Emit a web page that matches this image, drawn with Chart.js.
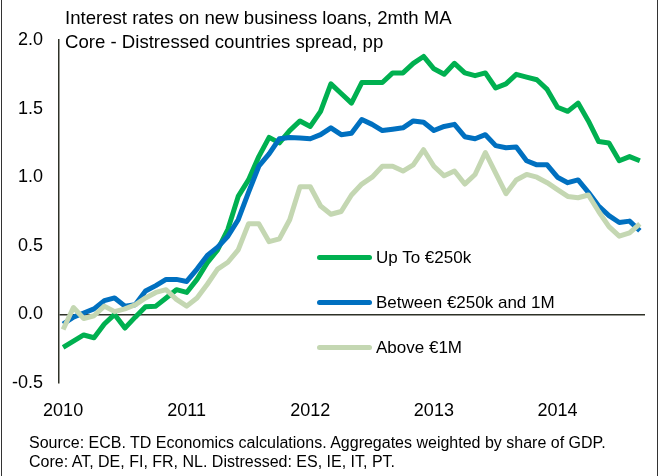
<!DOCTYPE html>
<html>
<head>
<meta charset="utf-8">
<script src="https://cdn.jsdelivr.net/npm/chart.js@4.4.1/dist/chart.umd.min.js"></script>
<style>
  body { margin: 0; background: #fff; }
  #wrap { position: relative; width: 660px; height: 476px; font-family: "Liberation Sans", Arial, sans-serif; color: #000; overflow: hidden; }
  #wrap canvas { position: absolute; left: 0; top: 0; }
  .edge { position: absolute; top: 0; width: 1px; height: 476px; background: #333; }
  .title { position: absolute; left: 65px; top: 6px; font-size: 18.6px; line-height: 24px; white-space: nowrap; }
  .foot { position: absolute; left: 29px; top: 433px; font-size: 16px; line-height: 19px; white-space: nowrap; }
  .leg { position: absolute; left: 317px; font-size: 17px; white-space: nowrap; }
  .leg span.sw { display: inline-block; width: 55px; height: 5px; border-radius: 3px; vertical-align: middle; margin-right: 4px; position: relative; top: -1px; }
</style>
</head>
<body>
<div id="wrap">
  <canvas id="c" width="660" height="476"></canvas>
  <div class="edge" style="left:1px"></div>
  <div class="edge" style="left:657px"></div>
  <div class="title">Interest rates on new business loans, 2mth MA<br>Core - Distressed countries spread, pp</div>
  <div id="legend"></div>
  <div class="foot">Source: ECB. TD Economics calculations. Aggregates weighted by share of GDP.<br>Core: AT, DE, FI, FR, NL. Distressed: ES, IE, IT, PT.</div>
</div>
<script>
// monthly points, Jan 2010 .. Sep 2014
const years = ['2010', '2011', '2012', '2013', '2014'];
const yTicks = [-0.5, 0, 0.5, 1.0, 1.5, 2.0];

const upTo250k = [-0.24, -0.195, -0.15, -0.17, -0.07, 0.0, -0.10, -0.02, 0.056, 0.06, 0.12, 0.18,
  0.16, 0.255, 0.377, 0.47, 0.62, 0.86, 0.98, 1.15, 1.29, 1.25, 1.34, 1.41,
  1.37, 1.48, 1.68, 1.61, 1.54, 1.69, 1.69, 1.69, 1.76, 1.76, 1.83, 1.88,
  1.79, 1.75, 1.83, 1.76, 1.74, 1.76, 1.65, 1.68, 1.75, 1.73, 1.71, 1.64,
  1.51, 1.48, 1.54, 1.41, 1.26, 1.25, 1.12, 1.15, 1.12];

const between250k1M = [-0.07, -0.02, 0.01, 0.04, 0.10, 0.12, 0.06, 0.07, 0.17, 0.21, 0.255, 0.255,
  0.24, 0.33, 0.43, 0.49, 0.57, 0.69, 0.89, 1.08, 1.17, 1.28, 1.29, 1.285,
  1.28, 1.31, 1.36, 1.31, 1.32, 1.42, 1.385, 1.34, 1.35, 1.36, 1.41, 1.40,
  1.34, 1.37, 1.385, 1.295, 1.28, 1.31, 1.23, 1.215, 1.22, 1.12, 1.09, 1.09,
  1.00, 0.96, 0.98, 0.89, 0.79, 0.72, 0.67, 0.68, 0.61];

const above1M = [-0.11, 0.05, -0.03, -0.01, 0.06, 0.02, 0.04, 0.07, 0.12, 0.16, 0.18, 0.11,
  0.06, 0.12, 0.22, 0.33, 0.38, 0.47, 0.66, 0.66, 0.53, 0.55, 0.69, 0.93,
  0.93, 0.79, 0.73, 0.75, 0.87, 0.95, 1.00, 1.08, 1.08, 1.045, 1.09, 1.20,
  1.08, 1.01, 1.045, 0.95, 1.02, 1.18, 1.03, 0.88, 0.98, 1.02, 1.00, 0.96,
  0.91, 0.86, 0.85, 0.87, 0.75, 0.64, 0.57, 0.595, 0.66];

const pts = arr => arr.map((v, i) => ({ x: i, y: v }));
const axisCol = '#2e3127';

const series = [
  { label: 'Up To €250k', data: pts(upTo250k), borderColor: '#00b050', order: 3 },
  { label: 'Between €250k and 1M', data: pts(between250k1M), borderColor: '#0070c0', order: 2 },
  { label: 'Above €1M', data: pts(above1M), borderColor: '#c4d7b2', order: 1 }
];
series.forEach(s => {
  s.borderWidth = 5;
  s.pointRadius = 0;
  s.tension = 0;
  s.fill = false;
  s.borderJoinStyle = 'round';
});

const chart = new Chart(document.getElementById('c'), {
  type: 'line',
  data: { datasets: series },
  options: {
    responsive: false,
    animation: false,
    layout: { padding: { top: 40, right: 15, bottom: 0, left: 0 } },
    plugins: { legend: { display: false }, tooltip: { enabled: false } },
    scales: {
      x: {
        type: 'linear',
        min: -0.4,
        max: 56.5,
        afterFit: s => { s.height = 93; },
        afterBuildTicks: s => { s.ticks = years.map((y, i) => ({ value: i * 12 })); },
        ticks: {
          padding: 9,
          color: '#000',
          font: { family: 'Liberation Sans', size: 18 },
          maxRotation: 0,
          autoSkip: false,
          callback: (v) => years[Math.round(v / 12)]
        },
        grid: { display: false },
        border: { display: false }
      },
      y: {
        min: -0.5,
        max: 2.0,
        afterFit: s => { s.width = 59; },
        afterBuildTicks: s => { s.ticks = yTicks.map(v => ({ value: v })); },
        ticks: {
          padding: 16,
          color: '#000',
          font: { family: 'Liberation Sans', size: 18 },
          callback: v => v.toFixed(1)
        },
        grid: {
          drawTicks: false,
          lineWidth: 1.5,
          color: c => (c.tick && c.tick.value === 0 ? axisCol : 'rgba(0,0,0,0)')
        },
        border: { display: true, color: axisCol, width: 1.5 }
      }
    }
  }
});

// legend inside the plot
const legendTop = [248, 293, 338];
const legend = document.getElementById('legend');
chart.data.datasets.forEach((ds, i) => {
  const d = document.createElement('div');
  d.className = 'leg';
  d.style.top = legendTop[i] + 'px';
  d.innerHTML = '<span class="sw" style="background:' + ds.borderColor + '"></span>' + ds.label;
  legend.appendChild(d);
});
</script>
</body>
</html>
